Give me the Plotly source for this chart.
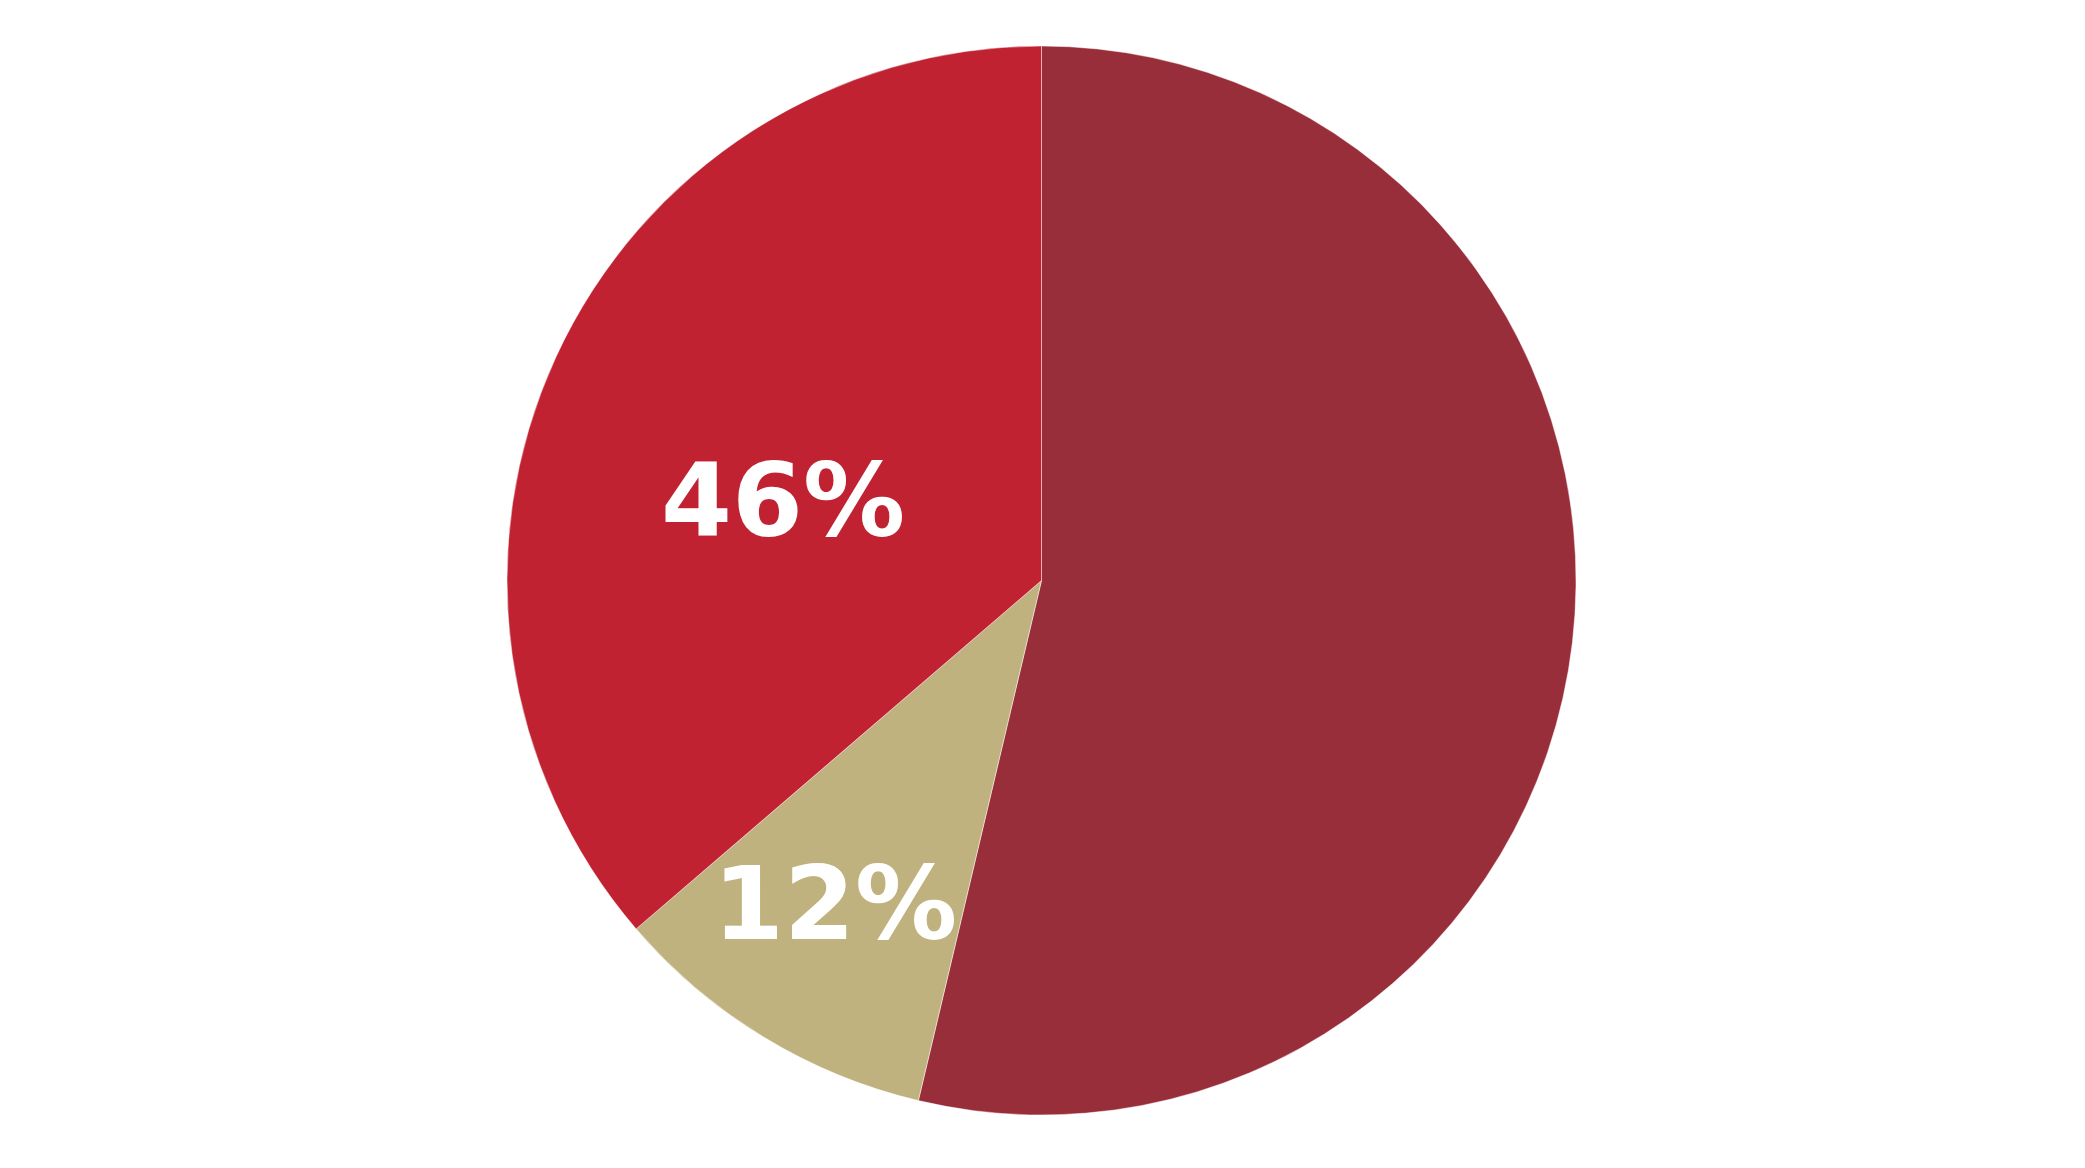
import plotly.graph_objects as go

categories = ["Other", "Tan share", "Red share"]
values = [53.7, 10.0, 36.3]
label_texts = ["46%", "12%"]
colors = ["#992E3B", "#C0B27F", "#C12232"]

fig = go.Figure(go.Pie(
    labels=categories,
    values=values,
    textinfo="none",
    marker=dict(colors=colors, line=dict(color="rgba(255,255,255,0.45)", width=1)),
    direction="clockwise",
    sort=False,
    rotation=0,
    hoverinfo="label+percent",
    showlegend=False,
))

# label anchor positions (paper fractions)
label_pos = [(0.375, 0.575), (0.400, 0.198)]
for txt, (px, py) in zip(label_texts, label_pos):
    fig.add_annotation(
        text=txt, x=px, y=py, xref="paper", yref="paper",
        xanchor="center", yanchor="middle", showarrow=False,
        font=dict(family="DejaVu Sans", size=102, color="white", weight="bold"),
    )

fig.update_layout(
    width=2085, height=1168,
    margin=dict(l=0, r=18, t=38, b=61),
    paper_bgcolor="white",
    plot_bgcolor="white",
    showlegend=False,
)
fig.write_html("out.html")
